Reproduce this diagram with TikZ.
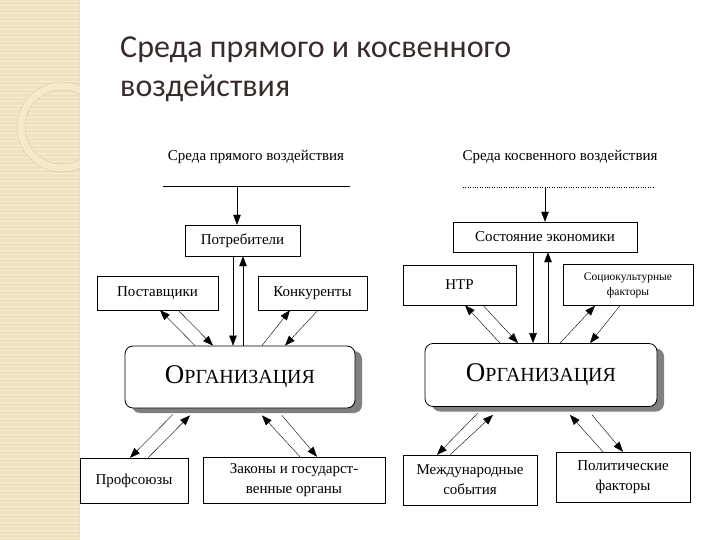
\documentclass[tikz,border=0pt]{standalone}
\usepackage{fontspec}
\setmainfont{Liberation Serif}
\newfontfamily\titlefont{Carlito}
\usepackage{tikz}
\usetikzlibrary{positioning, arrows, arrows.meta, shadows}
\definecolor{strip}{HTML}{EDE1BE}
\definecolor{stripline}{HTML}{F6EED8}
\definecolor{ringcol}{HTML}{F4EACB}
\definecolor{ringedge}{HTML}{E0CF9E}
\definecolor{titlecol}{HTML}{3A2B2B}

\begin{document}
\begin{tikzpicture}[x=1pt,y=-1pt,
  box/.style={draw,thin,rectangle,inner sep=0pt,align=center,font=\fontsize{15}{20}\selectfont},
  orgbox/.style={draw,thick,rounded corners=8pt,fill=white,minimum width=230pt,minimum height=62pt,
    drop shadow={shadow xshift=7pt,shadow yshift=-5pt,fill=black!50,opacity=1}},
  arr/.style={-{Triangle[length=10pt,width=7.5pt]},thin},
]
\useasboundingbox (0,0) rectangle (720,540);

% decorative strip
\fill[strip] (0,0) rectangle (80,540);
\foreach \y in {2,6,...,540} \draw[stripline,line width=1pt] (0,\y) -- (78,\y);
\draw[ringedge,line width=0.6pt] (65,0) arc (0:-90:55 and 62);
\begin{scope}
\clip (0,0) rectangle (80,540);
\draw[ringcol,line width=7pt] (62,127) circle (41);
\draw[ringedge,line width=0.5pt] (62,127) circle (45);
\draw[ringedge,line width=0.5pt] (62,127) circle (37);
\end{scope}

% title
\node[anchor=base west,text=titlecol,font=\titlefont\fontsize{32}{34}\selectfont,inner sep=0pt] (t1) at (120,58) {Среда прямого и косвенного};
\node[anchor=base west,text=titlecol,font=\titlefont\fontsize{32}{34}\selectfont,inner sep=0pt] (t2) at (120,97) {воздействия};

% direct environment
\node[font=\fontsize{15}{16}\selectfont] (env1) at (256,157) {Среда прямого воздействия};
\draw[thin] (163,186) -- (350,186);
\coordinate (e1) at (237,186);
\node[box,minimum width=115pt,minimum height=31pt] (potr) at (242.5,240.5) {Потребители};
\node[box,minimum width=121pt,minimum height=34pt] (post) at (157.5,293) {Поставщики};
\node[box,minimum width=109pt,minimum height=34pt] (konk) at (312.5,293) {Конкуренты};
\node[orgbox] (orgA) at (240,377) {{\fontsize{27}{30}\selectfont О}{\fontsize{20}{24}\selectfont РГАНИЗАЦИЯ}};
\node[box,minimum width=108pt,minimum height=45pt] (prof) at (134,480.5) {Профсоюзы};
\node[box,minimum width=182pt,minimum height=46pt] (zak) at (294,480) {Законы и государст-\\венные органы};

\draw[arr] (e1) -- (e1 |- potr.north);
\draw[arr] ([xshift=-9.5pt]potr.south) -- ([xshift=-7pt]orgA.north);
\draw[arr] ([xshift=3pt]orgA.north) -- ([xshift=0.5pt]potr.south);
\draw[arr] ([xshift=20.5pt]post.south) -- ([xshift=-27pt]orgA.north);
\draw[arr] ([xshift=-45pt]orgA.north) -- ([xshift=2.5pt]post.south);
\draw[arr] ([xshift=22pt]orgA.north) -- ([xshift=-22.5pt]konk.south);
\draw[arr] ([xshift=5.5pt]konk.south) -- ([xshift=45pt]orgA.north);
\draw[arr] ([xshift=-67pt,yshift=-6pt]orgA.south) -- ([xshift=-4pt]prof.north);
\draw[arr] ([xshift=14pt]prof.north) -- ([xshift=-50pt,yshift=-7pt]orgA.south);
\draw[arr] ([xshift=6pt]zak.north) -- ([xshift=22pt,yshift=-7pt]orgA.south);
\draw[arr] ([xshift=42pt,yshift=-7pt]orgA.south) -- ([xshift=23pt]zak.north);

% indirect environment
\node[font=\fontsize{15}{16}\selectfont] (env2) at (560,157) {Среда косвенного воздействия};
\draw[dotted,thin] (463,187) -- (655,187);
\coordinate (e2) at (545,187);
\node[box,minimum width=184pt,minimum height=30pt] (sost) at (545,237) {Состояние экономики};
\node[box,semithick,minimum width=113pt,minimum height=40pt] (ntr) at (459.5,285) {НТР};
\node[box,minimum width=130pt,minimum height=41pt,font=\fontsize{11.5}{15}\selectfont] (soc) at (628,285) {Социокультурные\\факторы};
\node[orgbox,minimum width=232pt,minimum height=63pt] (orgB) at (541,375) {{\fontsize{27}{30}\selectfont О}{\fontsize{20}{24}\selectfont РГАНИЗАЦИЯ}};
\node[box,minimum width=134pt,minimum height=50pt] (mezh) at (470,480) {Международные\\события};
\node[box,minimum width=134pt,minimum height=50pt] (pol) at (623,477) {Политические\\факторы};

\draw[arr] (e2) -- (e2 |- sost.north);
\draw[arr] ([xshift=-12pt]sost.south) -- ([xshift=-8pt]orgB.north);
\draw[arr] ([xshift=7pt]orgB.north) -- ([xshift=3pt]sost.south);
\draw[arr] ([xshift=23.5pt]ntr.south) -- ([xshift=-23pt]orgB.north);
\draw[arr] ([xshift=-41pt]orgB.north) -- ([xshift=5.5pt]ntr.south);
\draw[arr] ([xshift=19pt]orgB.north) -- ([xshift=-33pt]soc.south);
\draw[arr] ([xshift=-8pt]soc.south) -- ([xshift=49pt]orgB.north);
\draw[arr] ([xshift=-63pt,yshift=-6pt]orgB.south) -- ([xshift=-33pt]mezh.north);
\draw[arr] ([xshift=-20pt]mezh.north) -- ([xshift=-48pt,yshift=-8pt]orgB.south);
\draw[arr] ([xshift=-20pt]pol.north) -- ([xshift=29pt,yshift=-8pt]orgB.south);
\draw[arr] ([xshift=51pt,yshift=-8pt]orgB.south) -- ([xshift=0pt]pol.north);
\end{tikzpicture}
\end{document}
